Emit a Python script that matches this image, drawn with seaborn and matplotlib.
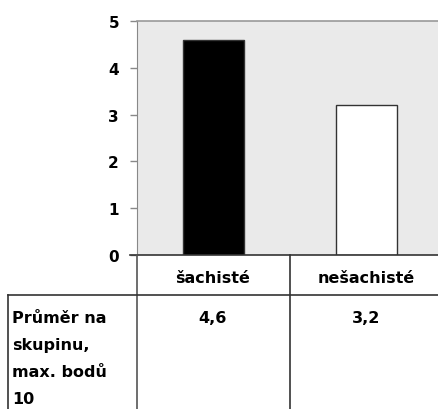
import matplotlib
matplotlib.use("Agg")
import matplotlib.pyplot as plt
import seaborn as sns
import pandas as pd
from matplotlib.lines import Line2D

categories = ["šachisté", "nešachisté"]
values = [4.6, 3.2]
value_labels = ["4,6", "3,2"]
row_label = ["Průměr na", "skupinu,", "max. bodů", "10"]
yticks = [0, 1, 2, 3, 4, 5]

W, H = 439, 410
plt.rcParams['font.family'] = ['DejaVu Sans']
plt.rcParams['font.weight'] = 'bold'
FS = 11
FS_TAB = 11.5

fig = plt.figure(figsize=(W / 100, H / 100), dpi=100)

def fx(px):
    return px / W

def fy(py):
    return 1 - py / H

left, right, top, bottom = 137, 443, 22, 256
ax = fig.add_axes([fx(left), fy(bottom), fx(right - left), fy(top) - fy(bottom)])
ax.set_facecolor("#EAEAEA")

df = pd.DataFrame({"cat": categories, "val": values})
sns.barplot(data=df, x="cat", y="val", hue="cat", palette=["black", "white"],
            width=0.4, edgecolor="#333333", linewidth=1, legend=False, ax=ax)

ax.set_xlim(-0.5, 1.5)
ax.set_ylim(0, 5)
ax.set_yticks(yticks)
ax.set_yticklabels([str(t) for t in yticks], fontsize=FS, fontweight="bold")
ax.set_xticks([])
ax.set_xlabel("")
ax.set_ylabel("")
ax.tick_params(axis="y", length=5, width=1, color="#888888", pad=8)
ax.spines["right"].set_visible(False)
ax.spines["bottom"].set_visible(False)
ax.spines["left"].set_color("#888888")
ax.spines["top"].set_color("#999999")
ax.spines["top"].set_linewidth(1.2)

def line(x0, y0, x1, y1, color="#333333", lw=1.2):
    fig.add_artist(Line2D([fx(x0), fx(x1)], [fy(y0), fy(y1)], color=color, lw=lw))

# axis baseline and table grid
line(130, 256, W, 256, color="#333333", lw=1.2)
line(137, 256, 137, H, color="#555555")
line(8, 296, W, 296)
line(8, 296, 8, H)
line(290, 256, 290, H)

col_centers = [213, 366]
for cx, cat, lab in zip(col_centers, categories, value_labels):
    fig.text(fx(cx), fy(283), cat, ha="center", va="baseline", fontsize=FS_TAB, fontweight="bold")
    fig.text(fx(cx), fy(323), lab, ha="center", va="baseline", fontsize=FS_TAB, fontweight="bold")

for i, txt in enumerate(row_label):
    fig.text(fx(12), fy(323 + 27 * i), txt, ha="left", va="baseline", fontsize=FS_TAB,
             fontweight="bold")

fig.savefig("out.png", dpi=100)
